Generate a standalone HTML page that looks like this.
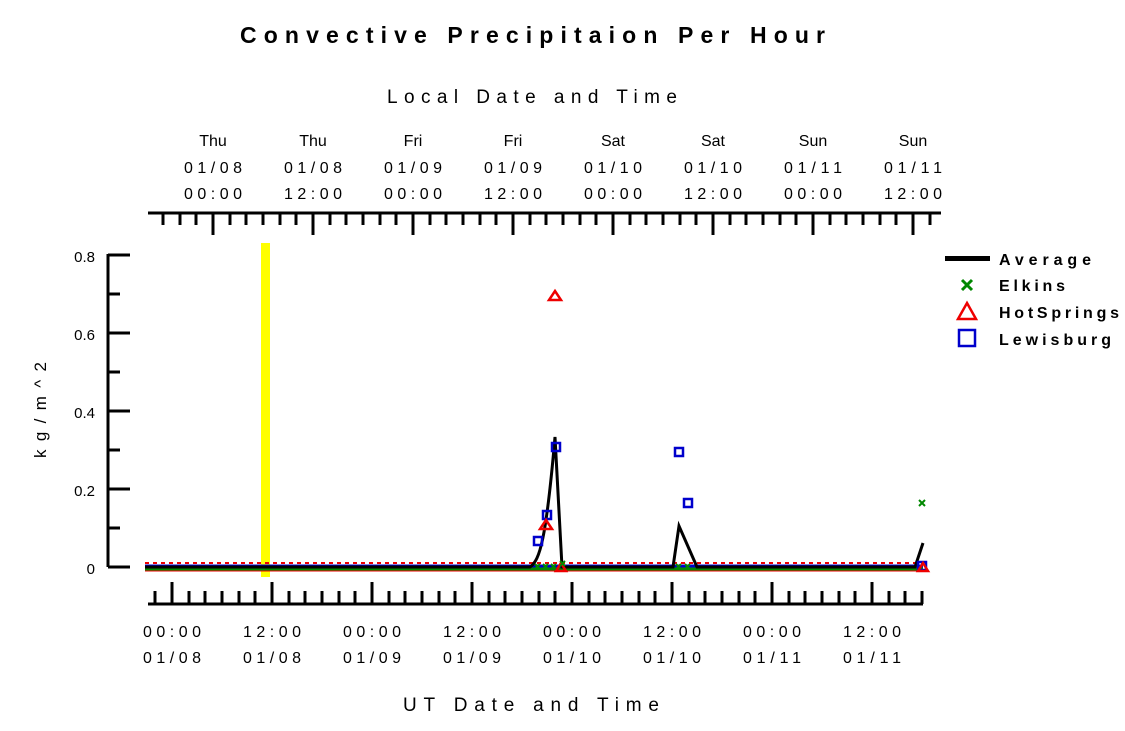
<!DOCTYPE html>
<html><head><meta charset="utf-8"><style>body{margin:0;background:#fff}svg{display:block}</style></head><body>
<svg width="1125" height="731" xmlns="http://www.w3.org/2000/svg" font-family="Liberation Sans, sans-serif">
<rect width="1125" height="731" fill="#fff"/>
<text x="240" y="43" font-size="23" font-weight="bold" textLength="585" lengthAdjust="spacing">Convective Precipitaion Per Hour</text>
<text x="387" y="103" font-size="19" textLength="290" lengthAdjust="spacing">Local Date and Time</text>
<g font-size="16" text-anchor="middle">
<text x="213" y="146">Thu</text><text x="213" y="173" textLength="58" lengthAdjust="spacing">01/08</text><text x="213" y="199" textLength="58" lengthAdjust="spacing">00:00</text>
<text x="313" y="146">Thu</text><text x="313" y="173" textLength="58" lengthAdjust="spacing">01/08</text><text x="313" y="199" textLength="58" lengthAdjust="spacing">12:00</text>
<text x="413" y="146">Fri</text><text x="413" y="173" textLength="58" lengthAdjust="spacing">01/09</text><text x="413" y="199" textLength="58" lengthAdjust="spacing">00:00</text>
<text x="513" y="146">Fri</text><text x="513" y="173" textLength="58" lengthAdjust="spacing">01/09</text><text x="513" y="199" textLength="58" lengthAdjust="spacing">12:00</text>
<text x="613" y="146">Sat</text><text x="613" y="173" textLength="58" lengthAdjust="spacing">01/10</text><text x="613" y="199" textLength="58" lengthAdjust="spacing">00:00</text>
<text x="713" y="146">Sat</text><text x="713" y="173" textLength="58" lengthAdjust="spacing">01/10</text><text x="713" y="199" textLength="58" lengthAdjust="spacing">12:00</text>
<text x="813" y="146">Sun</text><text x="813" y="173" textLength="58" lengthAdjust="spacing">01/11</text><text x="813" y="199" textLength="58" lengthAdjust="spacing">00:00</text>
<text x="913" y="146">Sun</text><text x="913" y="173" textLength="58" lengthAdjust="spacing">01/11</text><text x="913" y="199" textLength="58" lengthAdjust="spacing">12:00</text>
<text x="172" y="637" textLength="58" lengthAdjust="spacing">00:00</text><text x="172" y="663" textLength="58" lengthAdjust="spacing">01/08</text>
<text x="272" y="637" textLength="58" lengthAdjust="spacing">12:00</text><text x="272" y="663" textLength="58" lengthAdjust="spacing">01/08</text>
<text x="372" y="637" textLength="58" lengthAdjust="spacing">00:00</text><text x="372" y="663" textLength="58" lengthAdjust="spacing">01/09</text>
<text x="472" y="637" textLength="58" lengthAdjust="spacing">12:00</text><text x="472" y="663" textLength="58" lengthAdjust="spacing">01/09</text>
<text x="572" y="637" textLength="58" lengthAdjust="spacing">00:00</text><text x="572" y="663" textLength="58" lengthAdjust="spacing">01/10</text>
<text x="672" y="637" textLength="58" lengthAdjust="spacing">12:00</text><text x="672" y="663" textLength="58" lengthAdjust="spacing">01/10</text>
<text x="772" y="637" textLength="58" lengthAdjust="spacing">00:00</text><text x="772" y="663" textLength="58" lengthAdjust="spacing">01/11</text>
<text x="872" y="637" textLength="58" lengthAdjust="spacing">12:00</text><text x="872" y="663" textLength="58" lengthAdjust="spacing">01/11</text>
</g>
<text x="403" y="711" font-size="19" textLength="256" lengthAdjust="spacing">UT Date and Time</text>
<text transform="translate(46,458) rotate(-90)" font-size="17" textLength="96" lengthAdjust="spacing">kg/m^2</text>
<g font-size="15" text-anchor="end">
<text x="95" y="262">0.8</text><text x="95" y="340">0.6</text><text x="95" y="418">0.4</text><text x="95" y="496">0.2</text><text x="95" y="574">0</text>
</g>
<g stroke="#000" stroke-width="3" fill="none">
<path d="M148 213H941"/>
<path d="M148 604H923"/>
<path d="M108 254V567"/>
<path d="M108 255H130M108 333H130M108 411H130M108 489H130M108 567H130M108 294H120M108 372H120M108 450H120M108 528H120"/>
<!-- top ticks -->
<path d="M213 213v22M313 213v22M413 213v22M513 213v22M613 213v22M713 213v22M813 213v22M913 213v22"/>
<path d="M163 213v12M180 213v12M196 213v12M230 213v12M246 213v12M263 213v12M280 213v12M296 213v12M330 213v12M346 213v12M363 213v12M380 213v12M396 213v12M430 213v12M446 213v12M463 213v12M480 213v12M496 213v12M530 213v12M546 213v12M563 213v12M580 213v12M596 213v12M630 213v12M646 213v12M663 213v12M680 213v12M696 213v12M730 213v12M746 213v12M763 213v12M780 213v12M796 213v12M830 213v12M846 213v12M863 213v12M880 213v12M896 213v12M930 213v12"/>
<!-- bottom ticks -->
<path d="M172 604v-22M272 604v-22M372 604v-22M472 604v-22M572 604v-22M672 604v-22M772 604v-22M872 604v-22"/>
<path d="M155 604v-13M189 604v-13M205 604v-13M222 604v-13M239 604v-13M255 604v-13M289 604v-13M305 604v-13M322 604v-13M339 604v-13M355 604v-13M389 604v-13M405 604v-13M422 604v-13M439 604v-13M455 604v-13M489 604v-13M505 604v-13M522 604v-13M539 604v-13M555 604v-13M589 604v-13M605 604v-13M622 604v-13M639 604v-13M655 604v-13M689 604v-13M705 604v-13M722 604v-13M739 604v-13M755 604v-13M789 604v-13M805 604v-13M822 604v-13M839 604v-13M855 604v-13M889 604v-13M905 604v-13M922 604v-13"/>
</g>
<rect x="261" y="243" width="9" height="334" fill="#ffff00"/>
<line x1="145" y1="563" x2="923" y2="563" stroke="#e00" stroke-width="2" stroke-dasharray="4 4"/>
<line x1="145" y1="566" x2="923" y2="566" stroke="#00c" stroke-width="3"/>
<line x1="145" y1="569" x2="923" y2="569" stroke="#080" stroke-width="3"/>
<line x1="145" y1="571" x2="923" y2="571" stroke="#e00" stroke-width="1"/>
<path d="M145 567H530C540 560 546 540 555 437L562 567H673L679 526L697 567H915L923 543" stroke="#000" stroke-width="3" fill="none"/>
<g fill="none" stroke="#00c" stroke-width="2.5">
<rect x="534" y="537" width="8" height="8"/><rect x="543" y="511" width="8" height="8"/><rect x="552" y="443" width="8" height="8"/>
<rect x="675" y="448" width="8" height="8"/><rect x="684" y="499" width="8" height="8"/><rect x="918" y="562" width="8" height="8"/>
</g>
<g fill="none" stroke="#e00" stroke-width="2.5">
<path d="M555 291L561 300H549Z"/><path d="M546 520L552 529H540Z"/><path d="M561 563L566 571H556Z"/><path d="M923 563L928 571H918Z"/>
</g>
<g stroke="#080" stroke-width="2">
<path d="M919 500l6 6m0-6l-6 6"/>
<path d="M535 564l5 5m0-5l-5 5M543 564l5 5m0-5l-5 5M551 564l5 5m0-5l-5 5M560 561l5 5m0-5l-5 5M676 564l5 5m0-5l-5 5M685 564l5 5m0-5l-5 5"/>
</g>
<rect x="945" y="256" width="45" height="5" fill="#000"/>
<path d="M962 280l10 10m0-10l-10 10" stroke="#080" stroke-width="3"/>
<path d="M967 303L976 319H958Z" fill="none" stroke="#e00" stroke-width="2.5"/>
<rect x="959" y="330" width="16" height="16" fill="none" stroke="#00c" stroke-width="2.5"/>
<g font-size="16" font-weight="bold">
<text x="999" y="265" textLength="92" lengthAdjust="spacing">Average</text>
<text x="999" y="291" textLength="66" lengthAdjust="spacing">Elkins</text>
<text x="999" y="318" textLength="120" lengthAdjust="spacing">HotSprings</text>
<text x="999" y="345" textLength="112" lengthAdjust="spacing">Lewisburg</text>
</g>
</svg>
</body></html>
